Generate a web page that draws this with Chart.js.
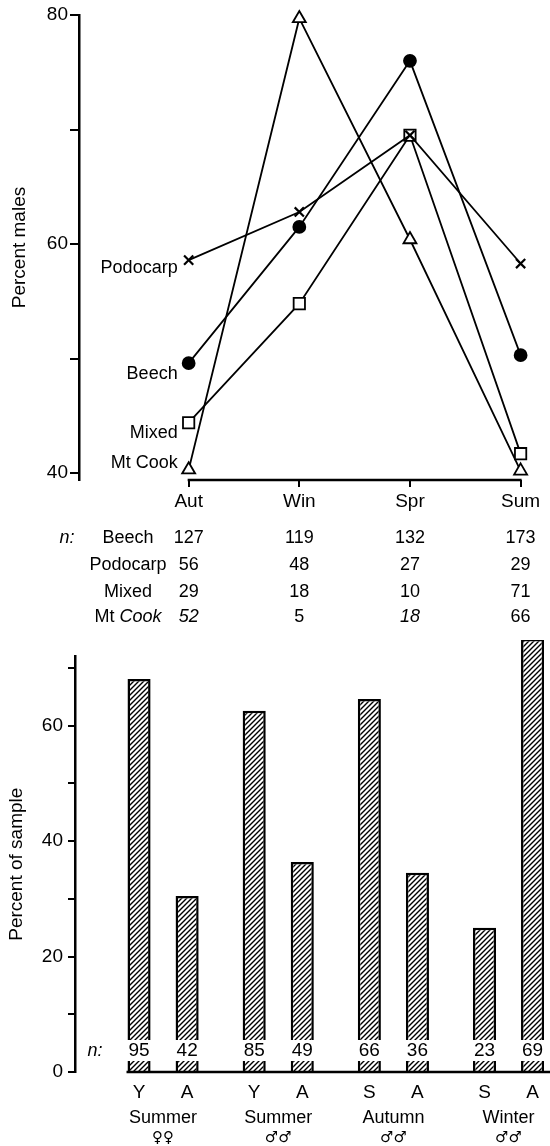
<!DOCTYPE html>
<html>
<head>
<meta charset="utf-8">
<script src="https://cdn.jsdelivr.net/npm/chart.js@4.4.1/dist/chart.umd.min.js"></script>
<style>
  html, body { margin: 0; padding: 0; background: #fff; }
  #wrap { position: relative; width: 550px; height: 1146px; }
  canvas { position: absolute; left: 0; }
  #males { top: 0; }
  #sample { top: 640px; }
</style>
</head>
<body>
<div id="wrap">
  <canvas id="males" width="550" height="640"></canvas>
  <canvas id="sample" width="550" height="506"></canvas>
</div>
<script>
// ---- Percent males by season and forest type ----
const seasons = ['Aut', 'Win', 'Spr', 'Sum'];
const beech    = [49.6, 61.5, 76.0, 50.3];
const podocarp = [58.6, 62.8, 69.5, 58.3];
const mixed    = [44.4, 54.8, 69.5, 41.7];
const mtCook   = [40.3, 79.7, 60.4, 40.2];
const sites = ['Beech', 'Podocarp', 'Mixed', 'Mt Cook'];
const nBeech    = [127, 119, 132, 173];
const nPodocarp = [56, 48, 27, 29];
const nMixed    = [29, 18, 10, 71];
const nMtCook   = [52, 5, 18, 66];
const malesTicks = [40, 50, 60, 70, 80];

// ---- Age classes as percent of sample ----
const groupNames = ['Summer', 'Summer', 'Autumn', 'Winter'];
const groupSex   = ['\u2640\u2640', '\u2642\u2642', '\u2642\u2642', '\u2642\u2642'];
const firstClass  = ['Y', 'Y', 'S', 'S'];
const secondClass = ['A', 'A', 'A', 'A'];
const pctFirst  = [68.1, 62.6, 64.6, 25.0];
const pctSecond = [30.5, 36.4, 34.5, 75.0];
const nFirst  = [95, 85, 66, 23];
const nSecond = [42, 49, 36, 69];
const sampleTicks = [0, 10, 20, 30, 40, 50, 60, 70];

const FONT = '"Liberation Sans", Arial, Helvetica, sans-serif';
const toXY = arr => arr.map((v, i) => ({ x: i, y: v }));

// ================= line chart =================
const siteSeries = [beech, podocarp, mixed, mtCook];
const siteN = [nBeech, nPodocarp, nMixed, nMtCook];
const siteLabelDy = [11, 8, 10, -7];
const italicN = [[], [], [], [0, 2]];

function lineSet(label, data, extra) {
  return Object.assign({
    label, data: toXY(data), showLine: true, clip: false,
    borderColor: '#000', borderWidth: 1.8,
    pointBorderColor: '#000', pointBorderWidth: 1.8,
    pointHoverRadius: 0
  }, extra);
}

const malesDecor = {
  id: 'malesDecor',
  afterDraw(chart) {
    const { ctx, chartArea } = chart;
    const xs = chart.scales.x, ys = chart.scales.y;
    ctx.save();
    // season axis line between first and last season
    ctx.strokeStyle = '#000';
    ctx.lineWidth = 2.5;
    ctx.beginPath();
    ctx.moveTo(xs.getPixelForValue(0) - 1, chartArea.bottom);
    ctx.lineTo(xs.getPixelForValue(seasons.length - 1) + 1, chartArea.bottom);
    ctx.stroke();

    // site names beside the first season's markers
    ctx.fillStyle = '#000';
    ctx.font = '18px ' + FONT;
    ctx.textAlign = 'right';
    ctx.textBaseline = 'middle';
    const x0 = xs.getPixelForValue(0) - 11;
    sites.forEach((s, i) => {
      ctx.fillText(s, x0, ys.getPixelForValue(siteSeries[i][0]) + siteLabelDy[i]);
    });

    // sample sizes table
    const rowDy = [58, 85, 112, 137];
    const labelX = 128;
    ctx.textAlign = 'center';
    sites.forEach((s, r) => {
      const y = chartArea.bottom + rowDy[r];
      if (s === 'Mt Cook') {
        ctx.font = '18px ' + FONT;
        const w1 = ctx.measureText('Mt ').width;
        ctx.font = 'italic 18px ' + FONT;
        const w2 = ctx.measureText('Cook').width;
        const start = labelX - (w1 + w2) / 2;
        ctx.textAlign = 'left';
        ctx.font = '18px ' + FONT;
        ctx.fillText('Mt ', start, y);
        ctx.font = 'italic 18px ' + FONT;
        ctx.fillText('Cook', start + w1, y);
        ctx.textAlign = 'center';
      } else {
        ctx.font = '18px ' + FONT;
        ctx.fillText(s, labelX, y);
      }
      siteN[r].forEach((n, c) => {
        ctx.font = (italicN[r].includes(c) ? 'italic ' : '') + '18px ' + FONT;
        ctx.fillText(String(n), xs.getPixelForValue(c), y);
      });
    });
    ctx.font = 'italic 18px ' + FONT;
    ctx.fillText('n:', 67, chartArea.bottom + rowDy[0]);
    ctx.restore();
  }
};

new Chart(document.getElementById('males'), {
  type: 'line',
  data: {
    datasets: [
      lineSet('Beech', beech, { pointStyle: 'circle', pointRadius: 6, pointBackgroundColor: '#000' }),
      lineSet('Podocarp', podocarp, { pointStyle: 'crossRot', pointRadius: 6.5, pointBorderWidth: 2.2, pointBackgroundColor: '#fff' }),
      lineSet('Mixed', mixed, { pointStyle: 'rect', pointRadius: 8, pointBackgroundColor: '#fff' }),
      lineSet('Mt Cook', mtCook, { pointStyle: 'triangle', pointRadius: 7.5, pointBackgroundColor: '#fff' })
    ]
  },
  options: {
    responsive: false, animation: false, devicePixelRatio: 1,
    layout: { padding: { top: 15, right: 0, left: 0, bottom: 0 } },
    plugins: { legend: { display: false }, tooltip: { enabled: false } },
    scales: {
      x: {
        type: 'linear', min: -0.991, max: 3.177,
        afterBuildTicks: s => { s.ticks = seasons.map((_, i) => ({ value: i })); },
        afterFit: s => { s.height = 160; },
        ticks: { callback: v => seasons[v], color: '#000', font: { family: FONT, size: 19 }, padding: 3, maxRotation: 0 },
        grid: { drawOnChartArea: false, drawTicks: true, tickLength: 7, color: '#000', lineWidth: 2 },
        border: { display: false }
      },
      y: {
        min: 39.4, max: 80,
        afterBuildTicks: s => { s.ticks = malesTicks.map(v => ({ value: v })); },
        afterFit: s => { s.width = 79; },
        ticks: { callback: v => (v % 20 === 0 ? String(v) : ''), color: '#000', font: { family: FONT, size: 19 }, padding: 2 },
        grid: { drawOnChartArea: false, drawTicks: true, tickLength: 9, color: '#000', lineWidth: 2 },
        border: { display: true, color: '#000', width: 2.5 },
        title: { display: true, text: 'Percent males', color: '#000', font: { family: FONT, size: 19 }, padding: { top: 8, bottom: 0 } }
      }
    }
  },
  plugins: [malesDecor]
});

// ================= bar chart =================
const sampleCanvas = document.getElementById('sample');
function hatchPattern(ctx) {
  const c = document.createElement('canvas');
  c.width = 5; c.height = 5;
  const g = c.getContext('2d');
  g.fillStyle = '#fff';
  g.fillRect(0, 0, 5, 5);
  g.strokeStyle = '#000';
  g.lineWidth = 1.4;
  g.beginPath();
  g.moveTo(-1, 6); g.lineTo(6, -1);
  g.moveTo(-1, 1); g.lineTo(1, -1);
  g.moveTo(4, 6); g.lineTo(6, 4);
  g.stroke();
  return ctx.createPattern(c, 'repeat');
}
const hatch = hatchPattern(sampleCanvas.getContext('2d'));

function barSet(label, data) {
  return {
    label, data: toXY(data), clip: false,
    backgroundColor: hatch, borderColor: '#000', borderWidth: 2.5,
    borderSkipped: 'start', categoryPercentage: 0.835, barPercentage: 0.48
  };
}

const sampleDecor = {
  id: 'sampleDecor',
  afterDraw(chart) {
    const { ctx } = chart;
    const xs = chart.scales.x, ys = chart.scales.y;
    const y0 = ys.getPixelForValue(0);
    const metas = [chart.getDatasetMeta(0), chart.getDatasetMeta(1)];
    const counts = [nFirst, nSecond];
    const classes = [firstClass, secondClass];
    ctx.save();
    ctx.fillStyle = '#000';
    ctx.textAlign = 'center';
    ctx.textBaseline = 'middle';
    metas.forEach((meta, d) => {
      meta.data.forEach((bar, i) => {
        const w = bar.width;
        ctx.fillStyle = '#fff';
        ctx.fillRect(bar.x - w / 2 - 2, y0 - 32, w + 4, 21);
        ctx.fillStyle = '#000';
        ctx.font = '19px ' + FONT;
        ctx.fillText(String(counts[d][i]), bar.x, y0 - 21);
        ctx.fillText(classes[d][i], bar.x, y0 + 21);
      });
    });
    // baseline from the first bar to the right edge
    const first = metas[0].data[0];
    ctx.strokeStyle = '#000';
    ctx.lineWidth = 2.5;
    ctx.beginPath();
    ctx.moveTo(first.x - first.width / 2 - 1, y0);
    ctx.lineTo(chart.width, y0);
    ctx.stroke();
    // group names and sexes
    groupNames.forEach((g, i) => {
      const gx = xs.getPixelForValue(i);
      ctx.font = '18px ' + FONT;
      ctx.fillText(g, gx, y0 + 46);
      ctx.font = '15px "DejaVu Sans", sans-serif';
      ctx.fillText(groupSex[i], gx, y0 + 66);
    });
    ctx.font = 'italic 18px ' + FONT;
    ctx.fillText('n:', 95, y0 - 21);
    ctx.restore();
  }
};

new Chart(sampleCanvas, {
  type: 'bar',
  data: { datasets: [barSet('Y/S', pctFirst), barSet('A', pctSecond)] },
  options: {
    responsive: false, animation: false, devicePixelRatio: 1,
    layout: { padding: { top: 16, right: 0, left: 0, bottom: 0 } },
    plugins: { legend: { display: false }, tooltip: { enabled: false } },
    scales: {
      x: {
        type: 'linear', min: -0.765, max: 3.36, offset: false,
        afterBuildTicks: s => { s.ticks = groupNames.map((_, i) => ({ value: i })); },
        afterFit: s => { s.height = 74; },
        ticks: { display: false },
        grid: { display: false },
        border: { display: false }
      },
      y: {
        min: 0, max: 72,
        afterBuildTicks: s => { s.ticks = sampleTicks.map(v => ({ value: v })); },
        afterFit: s => { s.width = 75; },
        ticks: { callback: v => (v % 20 === 0 ? String(v) : ''), color: '#000', font: { family: FONT, size: 19 }, padding: 5 },
        grid: { drawOnChartArea: false, drawTicks: true, tickLength: 7, color: '#000', lineWidth: 2 },
        border: { display: true, color: '#000', width: 2.5 },
        title: { display: true, text: 'Percent of sample', color: '#000', font: { family: FONT, size: 19 }, padding: { top: 5, bottom: 0 } }
      }
    }
  },
  plugins: [sampleDecor]
});
</script>
</body>
</html>
